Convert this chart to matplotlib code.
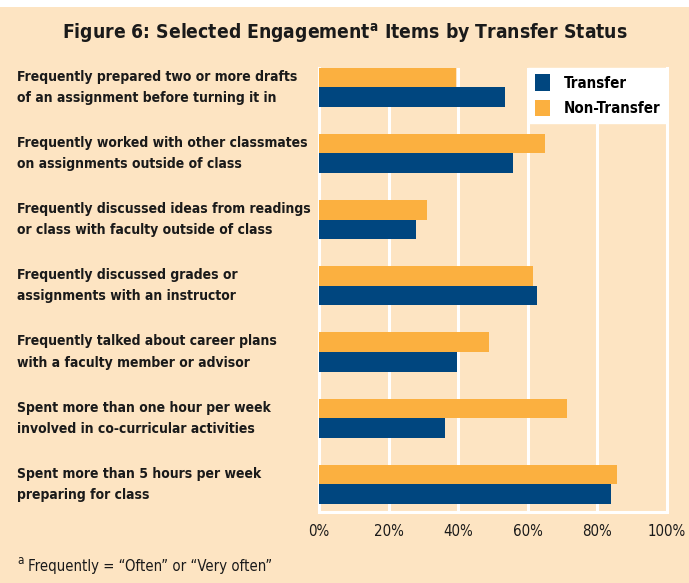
import matplotlib
matplotlib.use("Agg")
import matplotlib.pyplot as plt
import numpy as np

categories = [
    "Frequently prepared two or more drafts\nof an assignment before turning it in",
    "Frequently worked with other classmates\non assignments outside of class",
    "Frequently discussed ideas from readings\nor class with faculty outside of class",
    "Frequently discussed grades or\nassignments with an instructor",
    "Frequently talked about career plans\nwith a faculty member or advisor",
    "Spent more than one hour per week\ninvolved in co-curricular activities",
    "Spent more than 5 hours per week\npreparing for class",
]
transfer = [53.5, 55.8, 27.8, 62.7, 39.6, 36.1, 84.0]
non_transfer = [39.3, 65.0, 31.0, 61.5, 48.8, 71.3, 85.7]
xticks = [0, 20, 40, 60, 80, 100]
xticklabels = ["0%", "20%", "40%", "60%", "80%", "100%"]

BG = "#FDE4C2"
BLUE = "#00467F"
ORANGE = "#FBB040"
TXT = "#1a1a1a"
FONT = ["DejaVu Sans"]
STRETCH = "condensed"

plt.rcParams["font.family"] = FONT
plt.rcParams["font.stretch"] = STRETCH

fig = plt.figure(figsize=(6.89, 5.83), dpi=100)
fig.patch.set_facecolor(BG)
fig.add_artist(plt.Rectangle((0, 1 - 7 / 583), 1, 7 / 583, transform=fig.transFigure,
                             facecolor="white", edgecolor="none"))

ax = fig.add_axes([319 / 689, 1 - 512 / 583, (667 - 319) / 689, (512 - 67.7) / 583])
ax.set_facecolor(BG)

n = len(categories)
y = np.arange(n)[::-1].astype(float)
h = 0.296
ax.barh(y + h / 2, non_transfer, height=h, color=ORANGE, label="Non-Transfer", zorder=3)
ax.barh(y - h / 2, transfer, height=h, color=BLUE, label="Transfer", zorder=3)

ax.set_xlim(0, 100)
ax.set_ylim(-h - 8 / 66.2, (n - 1) + h)
ax.set_xticks(xticks)
ax.set_xticklabels(xticklabels, fontsize=10.8, fontstretch=STRETCH)
ax.tick_params(axis="x", length=0, pad=9, colors=TXT)
ax.set_yticks([])
ax.grid(axis="x", color="white", linewidth=2.2, zorder=1)
for s in ["left", "bottom", "right"]:
    ax.spines[s].set_color("white")
    ax.spines[s].set_linewidth(2.2)
ax.spines["top"].set_visible(False)

for yi, lab in zip(y, categories):
    disp = ax.transData.transform((0, yi))
    fy = fig.transFigure.inverted().transform(disp)[1]
    fig.text(17 / 689, fy, lab, ha="left", va="center", fontsize=10,
             fontweight="bold", fontstretch=STRETCH, color=TXT, linespacing=1.65)

handles, labels = ax.get_legend_handles_labels()
leg = ax.legend(handles[::-1], labels[::-1], loc="upper right", bbox_to_anchor=(1.0, 1.0),
                frameon=True, fancybox=False, framealpha=1, facecolor="white",
                edgecolor="white",
                prop={"family": FONT, "weight": "bold", "size": 10.8, "stretch": STRETCH},
                handlelength=1.0, handleheight=1.3, borderpad=0.45, labelspacing=0.6,
                handletextpad=0.9, borderaxespad=0)
leg.set_zorder(5)

fig.text(345 / 689, 1 - 33 / 583,
         r"Figure 6: Selected Engagement$^{\mathregular{a}}$ Items by Transfer Status",
         ha="center", va="center", fontsize=13.9, fontweight="bold",
         fontstretch=STRETCH, color=TXT)

fig.text(17 / 689, 1 - 561 / 583, "a", fontsize=8.5, color=TXT, ha="left", va="center")
fig.text(28 / 689, 1 - 567 / 583, "Frequently = \u201cOften\u201d or \u201cVery often\u201d",
         fontsize=10.7, color=TXT, ha="left", va="center")

fig.savefig("out.png", dpi=100, facecolor=BG)
